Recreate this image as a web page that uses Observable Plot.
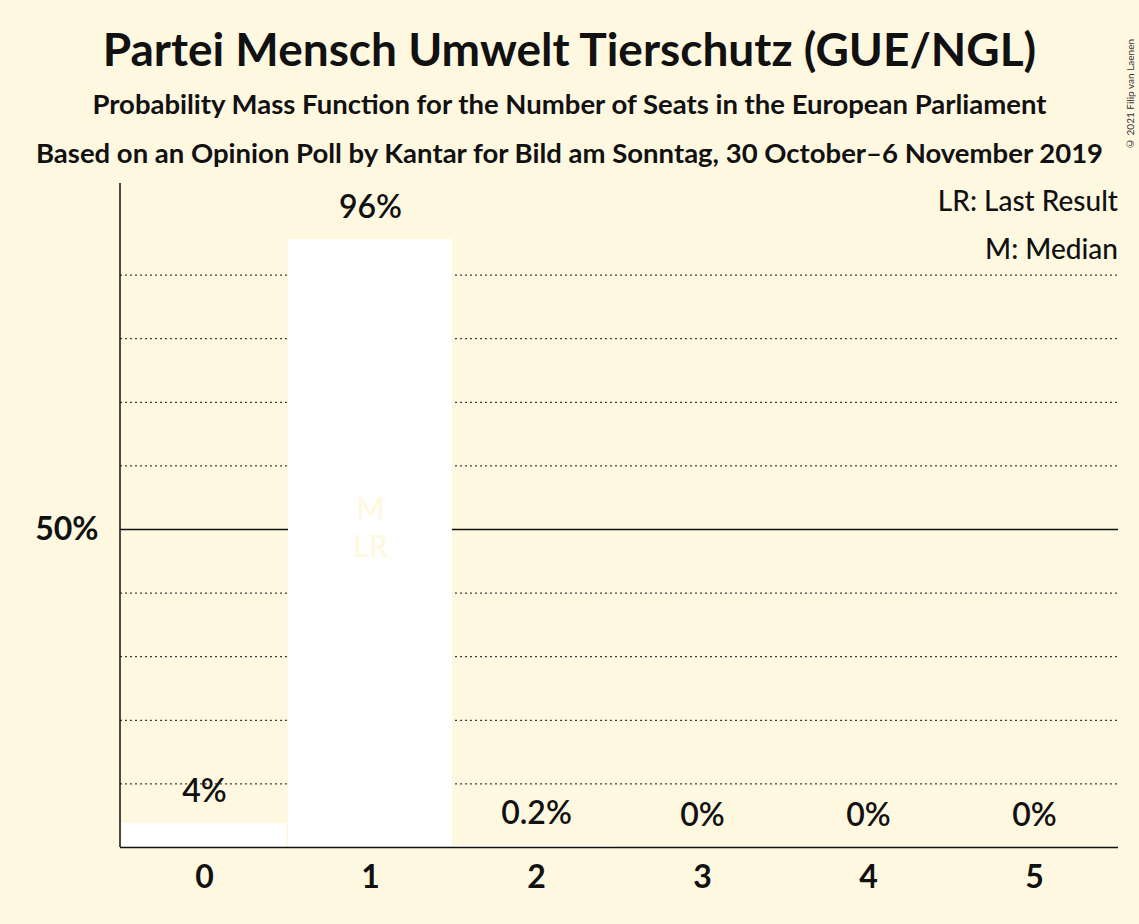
<!DOCTYPE html>
<html><head><meta charset="utf-8">
<script src="https://cdn.jsdelivr.net/npm/d3@7"></script>
<script src="https://cdn.jsdelivr.net/npm/@observablehq/plot@0.6"></script>
<style>
body{margin:0;background:#FFF8E1;font-family:Lato,sans-serif;}
#wrap{position:relative;width:1139px;height:924px;}
.t{position:absolute;left:0;width:1139px;text-align:center;color:#111;font-weight:bold;white-space:nowrap;}
</style></head><body>
<div id="wrap">
<div class="t" style="top:21px;font-size:46px;">Partei Mensch Umwelt Tierschutz (GUE/NGL)</div>
<div class="t" style="top:87px;font-size:27.5px;">Probability Mass Function for the Number of Seats in the European Parliament</div>
<div class="t" style="top:136px;font-size:27.5px;">Based on an Opinion Poll by Kantar for Bild am Sonntag, 30 October–6 November 2019</div>
<div style="position:absolute;right:21px;top:176px;font-size:28px;font-weight:500;color:#111;text-align:right;line-height:48px;">LR: Last Result<br>M: Median</div>
<div style="position:absolute;left:1124px;top:10px;writing-mode:vertical-rl;transform:rotate(180deg);font-size:10px;color:#333;height:140px;text-align:left;">© 2021 Filip van Laenen</div>
<div id="chart" style="position:absolute;left:0;top:0;"></div>
</div>
<script>
const seats = [0,1,2,3,4,5];
const probs = [3.8, 95.6, 0.2, 0, 0, 0];
const labels = ["4%","96%","0.2%","0%","0%","0%"];
const minorGrid = [10,20,30,40,60,70,80,90];
const data = seats.map((s,i)=>({s, p:probs[i], l:labels[i]}));
const chart = Plot.plot({
  width:1139, height:924, marginTop:211, marginBottom:77, marginLeft:120, marginRight:21,
  style:{background:"transparent", fontFamily:"Lato, sans-serif", color:"#111"},
  x:{type:"band", domain:seats, padding:0, label:null, tickSize:0, tickPadding:18},
  y:{domain:[0,100], label:null, ticks:[50], tickFormat:d=>d+"%", tickSize:0, tickPadding:22},
  marks:[
    Plot.ruleY(minorGrid,{stroke:"#111", strokeDasharray:"2,3", strokeWidth:1}),
    Plot.ruleY([50],{stroke:"#111", strokeWidth:1.5}),
    Plot.barY(data,{x:"s", y:"p", fill:"#fff", insetLeft:1, insetRight:1}),
    Plot.text(data,{x:"s", y:"p", text:"l", dy:-32, fontSize:32, fontWeight:600, fill:"#111"}),
    Plot.text([{s:1,t:"M"}],{x:"s", y:()=>53.2, text:"t", fontSize:30, fontWeight:600, fill:"#FFF8E1"}),
    Plot.text([{s:1,t:"LR"}],{x:"s", y:()=>47.2, text:"t", fontSize:30, fontWeight:600, fill:"#FFF8E1"}),
    Plot.ruleY([0],{stroke:"#111", strokeWidth:1.5})
  ]
});
chart.querySelectorAll("[aria-label='x-axis tick label'] text, [aria-label='y-axis tick label'] text").forEach(t=>{t.style.fontSize="32px";t.style.fontWeight="bold";});
const svg = d3.select(chart);
svg.append("line").attr("x1",120).attr("x2",120).attr("y1",183).attr("y2",847).attr("stroke","#111").attr("stroke-width",1.5);
document.getElementById("chart").appendChild(chart);
</script>
</body></html>
